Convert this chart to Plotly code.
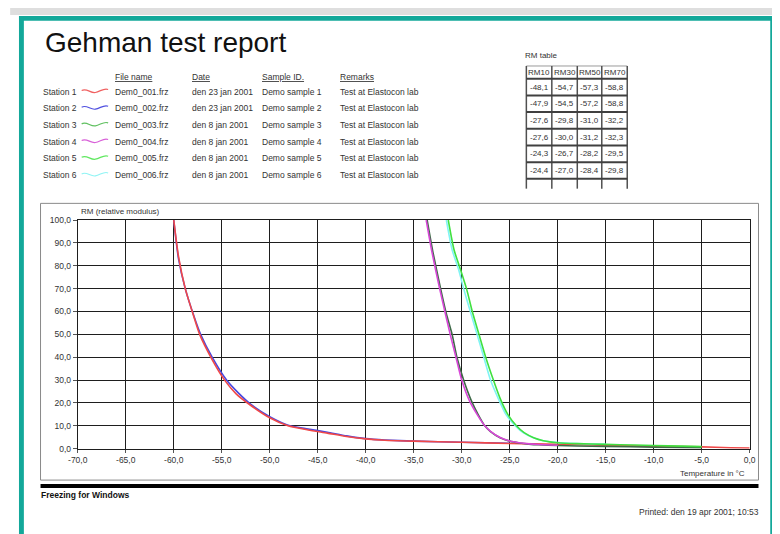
import plotly.graph_objects as go

# ---------------- data ----------------
stations = ["Station 1", "Station 2", "Station 3", "Station 4", "Station 5", "Station 6"]
file_names = ["Dem0_001.frz", "Dem0_002.frz", "Dem0_003.frz", "Dem0_004.frz", "Dem0_005.frz", "Dem0_006.frz"]
dates = ["den 23 jan 2001", "den 23 jan 2001", "den 8 jan 2001", "den 8 jan 2001", "den 8 jan 2001", "den 8 jan 2001"]
sample_ids = ["Demo sample 1", "Demo sample 2", "Demo sample 3", "Demo sample 4", "Demo sample 5", "Demo sample 6"]
remarks = ["Test at Elastocon lab"] * 6

rm_headers = ["RM10", "RM30", "RM50", "RM70"]
rm10 = [-48.1, -47.9, -27.6, -27.6, -24.3, -24.4]
rm30 = [-54.7, -54.5, -29.8, -30.0, -26.7, -27.0]
rm50 = [-57.3, -57.2, -31.0, -31.2, -28.2, -28.4]
rm70 = [-58.8, -58.8, -32.2, -32.3, -29.5, -29.8]

t1 = [-60.0, -59.5, -58.8, -58.0, -57.3, -56.0, -54.7, -53.5, -52.0, -50.0, -48.1, -46.0, -44.0, -42.0, -40.0, -38.0, -35.0, -30.0, -25.0, -20.0, -15.0, -10.0, -5.0, -2.0, 0.0]
rm_1 = [100, 84, 70, 59, 50, 39, 30, 24, 19, 13.5, 10, 8.2, 6.8, 5.3, 4.3, 3.7, 3.3, 2.8, 2.3, 1.9, 1.5, 1.1, 0.8, 0.4, 0.3]
t2 = [-60.0, -59.5, -58.8, -57.9, -57.2, -56.0, -54.5, -53.3, -52.0, -50.0, -47.9, -46.0, -44.0, -42.0, -40.0, -38.0, -35.0, -30.0, -25.0]
rm_2 = [100, 83, 70, 58, 50, 40, 30, 24.5, 19.5, 14, 10, 8.6, 7.2, 5.6, 4.4, 3.8, 3.3, 2.8, 2.4]
t3 = [-33.6, -33.0, -32.2, -31.6, -31.0, -30.5, -29.8, -29.0, -28.3, -27.6, -27.0, -26.0, -25.0, -24.0, -23.0, -22.0, -20.0, -18.0, -15.0, -10.0, -5.0]
rm_3 = [100, 86, 70, 59, 50, 40, 30, 21, 15, 10, 7.5, 4.8, 3.3, 2.5, 2.0, 1.7, 1.4, 1.2, 1.0, 0.7, 0.4]
t4 = [-33.7, -33.1, -32.3, -31.7, -31.2, -30.6, -30.0, -29.2, -28.4, -27.6, -27.0, -26.0, -25.0, -24.0, -23.0, -22.0, -20.0]
rm_4 = [100, 86, 70, 59, 50, 40, 30, 21, 15, 10, 7.6, 4.9, 3.4, 2.6, 2.1, 1.8, 1.5]
t5 = [-31.4, -30.8, -30.1, -29.5, -28.9, -28.2, -27.5, -26.7, -26.0, -25.2, -24.3, -23.5, -22.5, -21.5, -20.0, -18.0, -15.0, -12.0, -10.0, -7.0, -5.0]
rm_5 = [100, 87, 78, 70, 60, 50, 40, 30, 22, 15, 10, 7, 4.8, 3.5, 2.6, 2.2, 1.9, 1.6, 1.4, 1.1, 0.9]
t6 = [-31.6, -31.0, -30.3, -29.8, -29.1, -28.4, -27.7, -27.0, -26.2, -25.4, -24.4, -23.6, -22.6, -21.6, -20.0, -18.0, -15.0]
rm_6 = [100, 87, 78, 70, 60, 50, 40, 30, 22, 15, 10, 7, 4.9, 3.6, 2.7, 2.3, 2.0]

x_ticks = [-70, -65, -60, -55, -50, -45, -40, -35, -30, -25, -20, -15, -10, -5, 0]
x_ticktext = ["-70,0", "-65,0", "-60,0", "-55,0", "-50,0", "-45,0", "-40,0", "-35,0", "-30,0", "-25,0", "-20,0", "-15,0", "-10,0", "-5,0", "0,0"]
y_ticks = [0, 10, 20, 30, 40, 50, 60, 70, 80, 90, 100]
y_ticktext = ["0,0", "10,0", "20,0", "30,0", "40,0", "50,0", "60,0", "70,0", "80,0", "90,0", "100,0"]

# ---------------- styles ----------------
W, H = 780, 534
OFF = 8  # page body margin: positions below are given in window pixels
line_colors = ["#f04848", "#4848e0", "#3f6a48", "#d848d8", "#40e040", "#80f4f4"]
icon_colors = ["#f06060", "#5050e0", "#60c060", "#d860d8", "#60e860", "#90f4f4"]
FONT = "Liberation Sans"
TXT = "#333333"


def px(x):
    return (x - OFF) / W


def py(y):
    return 1 - (y - OFF) / H


fig = go.Figure()
series = [(t2, rm_2, 1), (t1, rm_1, 0), (t3, rm_3, 2), (t4, rm_4, 3), (t6, rm_6, 5), (t5, rm_5, 4)]
for tx, ry, i in series:
    fig.add_trace(go.Scatter(x=tx, y=ry, mode="lines", name=stations[i],
                             line=dict(color=line_colors[i], width=1.6, shape="spline", smoothing=0.6),
                             showlegend=False))

shapes = []
annos = []

# page decoration
shapes.append(dict(type="rect", xref="paper", yref="paper", x0=px(0), x1=px(800), y0=py(10), y1=py(0),
                   fillcolor="#dedede", line=dict(width=0), layer="below"))
for (x0, y0, x1, y1) in [(9, 11, 800, 16), (9, 11, 14, 560), (776, 11, 781, 560)]:
    shapes.append(dict(type="rect", xref="paper", yref="paper", x0=px(x0), x1=px(x1), y0=py(y1), y1=py(y0),
                       fillcolor="#13a89a", line=dict(width=0)))
# graph frame
shapes.append(dict(type="rect", xref="paper", yref="paper", x0=px(31), x1=px(764), y0=py(484), y1=py(202),
                   line=dict(color="#8a8a8a", width=1), layer="below"))
shapes.append(dict(type="rect", xref="paper", yref="paper", x0=px(31), x1=px(764), y0=py(492), y1=py(488),
                   fillcolor="#000000", line=dict(width=0)))

# title
annos.append(dict(text="Gehman test report", x=px(34), y=py(38), xref="paper", yref="paper",
                  xanchor="left", yanchor="middle", showarrow=False,
                  font=dict(family=FONT, size=28, color="#111111")))

# station legend table
hdr_y = 73
row_y = [88, 105, 122, 139, 156, 173]
cols_x = [105, 184, 255, 335]
for cx, h in zip(cols_x, ["File name", "Date", "Sample ID.", "Remarks"]):
    annos.append(dict(text="<u>" + h + "</u>", x=px(cx), y=py(hdr_y), xref="paper", yref="paper",
                      xanchor="left", yanchor="middle", showarrow=False,
                      font=dict(family=FONT, size=8.5, color=TXT)))
for i in range(6):
    yy = row_y[i]
    vals = [file_names[i], dates[i], sample_ids[i], remarks[i]]
    annos.append(dict(text=stations[i], x=px(31), y=py(yy), xref="paper", yref="paper",
                      xanchor="left", yanchor="middle", showarrow=False,
                      font=dict(family=FONT, size=8.5, color=TXT)))
    for cx, v in zip(cols_x, vals):
        annos.append(dict(text=v, x=px(cx), y=py(yy), xref="paper", yref="paper",
                          xanchor="left", yanchor="middle", showarrow=False,
                          font=dict(family=FONT, size=8.5, color=TXT)))
    # wavy icon
    a, b = 73, 100
    pth = "M {:.5f},{:.5f} C {:.5f},{:.5f} {:.5f},{:.5f} {:.5f},{:.5f} C {:.5f},{:.5f} {:.5f},{:.5f} {:.5f},{:.5f}".format(
        px(a), py(yy - 1), px(a + 5), py(yy - 4), px(a + 9), py(yy + 2), px(a + 14), py(yy + 1),
        px(a + 19), py(yy), px(a + 23), py(yy - 4), px(b), py(yy - 2))
    shapes.append(dict(type="path", xref="paper", yref="paper", path=pth,
                       line=dict(color=icon_colors[i], width=1.2)))

# RM table
annos.append(dict(text="RM table", x=px(524), y=py(51), xref="paper", yref="paper",
                  xanchor="left", yanchor="middle", showarrow=False,
                  font=dict(family=FONT, size=8, color=TXT)))
vlines = [527, 553, 579, 604, 630]
hlines = [75, 92, 109, 126, 143, 160, 177]
shapes.append(dict(type="line", xref="paper", yref="paper", x0=px(527), x1=px(630), y0=py(62), y1=py(62),
                   line=dict(color="#9a9a9a", width=1)))
for v in vlines:
    shapes.append(dict(type="line", xref="paper", yref="paper", x0=px(v), x1=px(v), y0=py(62), y1=py(187),
                       line=dict(color="#505050", width=1.5)))
for hline in hlines:
    shapes.append(dict(type="line", xref="paper", yref="paper", x0=px(527), x1=px(630), y0=py(hline), y1=py(hline),
                       line=dict(color="#404040", width=2)))
col_c = [540, 566, 591.5, 617]
for c, h in zip(col_c, rm_headers):
    annos.append(dict(text=h, x=px(c), y=py(68.5), xref="paper", yref="paper",
                      xanchor="center", yanchor="middle", showarrow=False,
                      font=dict(family=FONT, size=8, color=TXT)))
for r in range(6):
    for c, col in zip(col_c, [rm10, rm30, rm50, rm70]):
        annos.append(dict(text=("%.1f" % col[r]).replace(".", ","), x=px(c), y=py(83.5 + 17 * r),
                          xref="paper", yref="paper", xanchor="center", yanchor="middle", showarrow=False,
                          font=dict(family=FONT, size=8, color=TXT)))

# axis titles
annos.append(dict(text="RM (relative modulus)", x=px(70), y=py(210), xref="paper", yref="paper",
                  xanchor="left", yanchor="middle", showarrow=False,
                  font=dict(family=FONT, size=8, color=TXT)))
annos.append(dict(text="Temperature in °C", x=px(752), y=py(477), xref="paper", yref="paper",
                  xanchor="right", yanchor="middle", showarrow=False,
                  font=dict(family=FONT, size=8, color=TXT)))
# footer
annos.append(dict(text="<b>Freezing for Windows</b>", x=px(29), y=py(499), xref="paper", yref="paper",
                  xanchor="left", yanchor="middle", showarrow=False,
                  font=dict(family=FONT, size=8.5, color="#111111")))
annos.append(dict(text="Printed: den 19 apr 2001; 10:53", x=px(767), y=py(517), xref="paper", yref="paper",
                  xanchor="right", yanchor="middle", showarrow=False,
                  font=dict(family=FONT, size=8.5, color=TXT)))

fig.update_layout(
    width=W, height=H, margin=dict(l=0, r=0, t=0, b=0),
    paper_bgcolor="white", plot_bgcolor="white",
    shapes=shapes, annotations=annos, showlegend=False,
    xaxis=dict(domain=[px(69), px(755)], range=[-70, 0], tickvals=x_ticks, ticktext=x_ticktext,
               showgrid=True, gridcolor="#1e1e1e", gridwidth=1, zeroline=False,
               showline=True, linecolor="#1e1e1e", linewidth=1, mirror=True,
               ticks="outside", ticklen=3, tickcolor="#555555",
               tickfont=dict(family=FONT, size=8.5, color=TXT)),
    yaxis=dict(domain=[py(452), py(219)], range=[0, 100], tickvals=y_ticks, ticktext=y_ticktext,
               showgrid=True, gridcolor="#1e1e1e", gridwidth=1, zeroline=False,
               showline=True, linecolor="#1e1e1e", linewidth=1, mirror=True,
               ticks="outside", ticklen=4, tickcolor="#555555",
               tickfont=dict(family=FONT, size=8.5, color=TXT)),
)

fig.write_html("out.html")
